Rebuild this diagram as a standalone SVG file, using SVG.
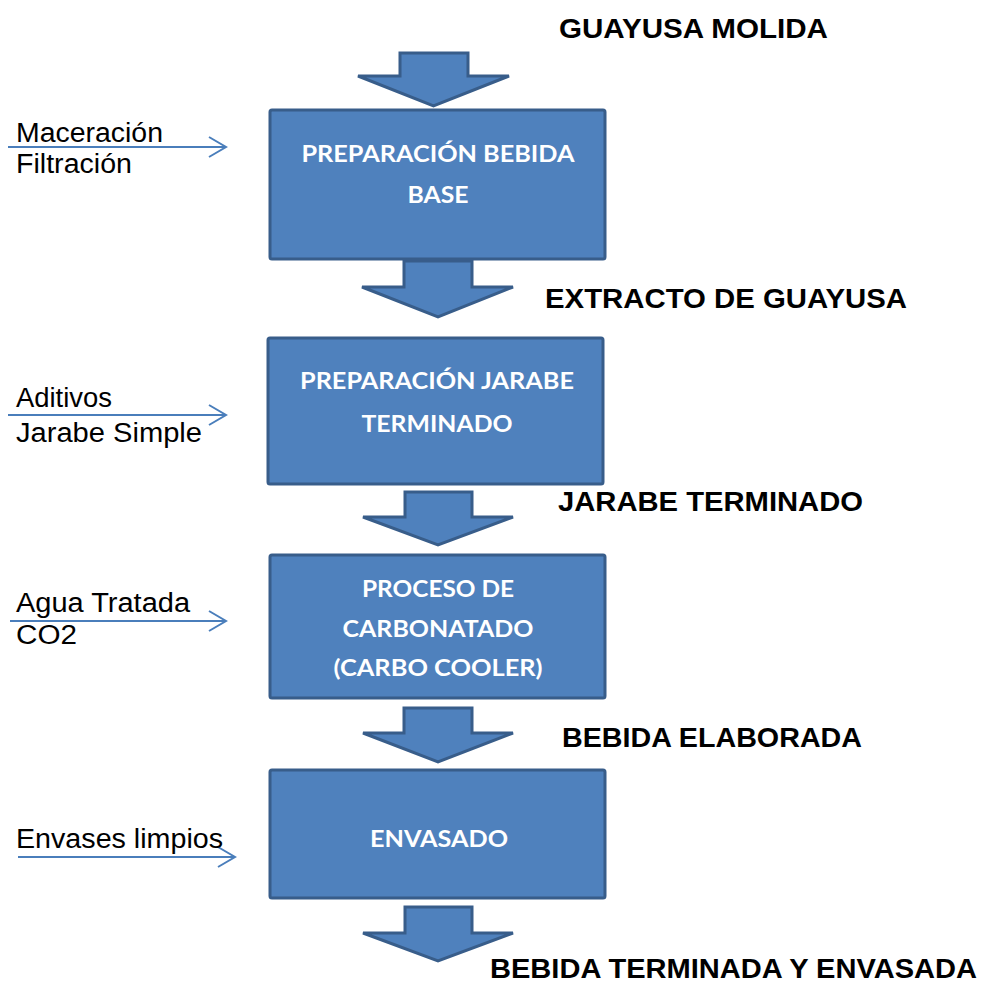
<svg xmlns="http://www.w3.org/2000/svg" width="981" height="986" viewBox="0 0 981 986">
<style>
.box{fill:#4F81BD;stroke:#385D8A;stroke-width:3}
.barrow{fill:#4F81BD;stroke:#385D8A;stroke-width:3;stroke-linejoin:miter}
.bt{font-family:Lato,"Open Sans",sans-serif;font-weight:bold;font-size:23px;fill:#FFFFFF;text-anchor:middle}
.lbl{font-family:"Liberation Sans",Arial,sans-serif;font-weight:bold;font-size:27px;fill:#000000}
.in{font-family:"Liberation Sans",Arial,sans-serif;font-size:27px;fill:#000000}
.line{stroke:#4A7EBB;stroke-width:2;fill:none}
</style>
<defs>
<marker id="open" markerWidth="20" markerHeight="24" refX="18" refY="11" orient="auto" markerUnits="userSpaceOnUse">
<path d="M1,1 L18,11 L1,21" fill="none" stroke="#4A7EBB" stroke-width="2"/>
</marker>
</defs>
<rect width="981" height="986" fill="#FFFFFF"/>
<g id="connectors">
<polygon class="barrow" points="400,53 468,53 468,76 509,76 433.5,106 358,76 400,76"/>
<polygon class="barrow" points="404,261 472,261 472,287 513,287 438,317 362,287 404,287"/>
<polygon class="barrow" points="405,492 472,492 472,517 513,517 438,545 363,517 405,517"/>
<polygon class="barrow" points="404,708 472,708 472,733 513,733 438,762 363,733 404,733"/>
<polygon class="barrow" points="405,907 472,907 472,933 513,933 438,961 363,933 405,933"/>
<line class="line" x1="8" y1="147" x2="226" y2="147" marker-end="url(#open)"/>
<line class="line" x1="8" y1="415" x2="226" y2="415" marker-end="url(#open)"/>
<line class="line" x1="10" y1="621" x2="226" y2="621" marker-end="url(#open)"/>
<line class="line" x1="18" y1="857" x2="235" y2="857" marker-end="url(#open)"/>
</g>
<g id="node-preparacion-bebida">
<rect class="box" x="270" y="110" width="335" height="149" rx="2"/>
<text class="bt" x="438" y="162" textLength="273" lengthAdjust="spacingAndGlyphs">PREPARACIÓN BEBIDA</text>
<text class="bt" x="438" y="203" textLength="61" lengthAdjust="spacingAndGlyphs">BASE</text>
</g>
<g id="node-preparacion-jarabe">
<rect class="box" x="268" y="338" width="335" height="146" rx="2"/>
<text class="bt" x="437" y="389" textLength="274" lengthAdjust="spacingAndGlyphs">PREPARACIÓN JARABE</text>
<text class="bt" x="437" y="432" textLength="151" lengthAdjust="spacingAndGlyphs">TERMINADO</text>
</g>
<g id="node-carbonatado">
<rect class="box" x="270" y="555" width="335" height="143" rx="2"/>
<text class="bt" x="438" y="597" textLength="152" lengthAdjust="spacingAndGlyphs">PROCESO DE</text>
<text class="bt" x="438" y="637" textLength="191" lengthAdjust="spacingAndGlyphs">CARBONATADO</text>
<text class="bt" x="438" y="676" textLength="209" lengthAdjust="spacingAndGlyphs">(CARBO COOLER)</text>
</g>
<g id="node-envasado">
<rect class="box" x="270" y="770" width="335" height="128" rx="2"/>
<text class="bt" x="439" y="847" textLength="138" lengthAdjust="spacingAndGlyphs">ENVASADO</text>
</g>
<g id="labels">
<text class="lbl" x="559" y="38" textLength="269" lengthAdjust="spacingAndGlyphs">GUAYUSA MOLIDA</text>
<text class="lbl" x="545" y="308" textLength="362" lengthAdjust="spacingAndGlyphs">EXTRACTO DE GUAYUSA</text>
<text class="lbl" x="558" y="511" textLength="305" lengthAdjust="spacingAndGlyphs">JARABE  TERMINADO</text>
<text class="lbl" x="562" y="747" textLength="300" lengthAdjust="spacingAndGlyphs">BEBIDA ELABORADA</text>
<text class="lbl" x="490" y="978" textLength="487" lengthAdjust="spacingAndGlyphs">BEBIDA TERMINADA Y ENVASADA</text>
<text class="in" x="16" y="142" textLength="147" lengthAdjust="spacingAndGlyphs">Maceración</text>
<text class="in" x="16" y="173" textLength="116" lengthAdjust="spacingAndGlyphs">Filtración</text>
<text class="in" x="16" y="407" textLength="96" lengthAdjust="spacingAndGlyphs">Aditivos</text>
<text class="in" x="16" y="442" textLength="186" lengthAdjust="spacingAndGlyphs">Jarabe Simple</text>
<text class="in" x="16" y="612" textLength="174" lengthAdjust="spacingAndGlyphs">Agua Tratada</text>
<text class="in" x="16" y="644" textLength="61" lengthAdjust="spacingAndGlyphs">CO2</text>
<text class="in" x="16" y="848" textLength="207" lengthAdjust="spacingAndGlyphs">Envases limpios</text>
</g>
</svg>
